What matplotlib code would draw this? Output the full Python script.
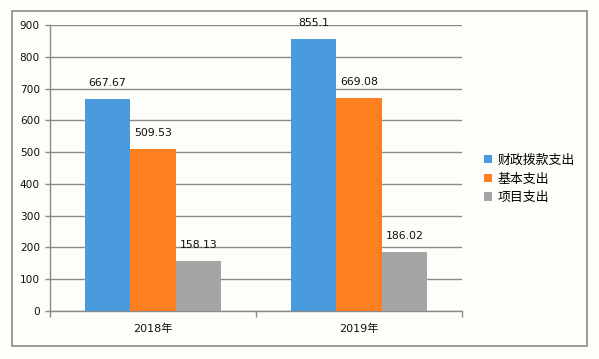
import numpy as np
import matplotlib
matplotlib.use("Agg")
import matplotlib.pyplot as plt
from matplotlib.patches import Rectangle

plt.rcParams['font.family'] = ['DejaVu Sans', 'Noto Sans CJK SC']

years = ['2018年', '2019年']
series_names = ['财政拨款支出', '基本支出', '项目支出']
fiscal = [667.67, 855.1]
basic = [509.53, 669.08]
project = [158.13, 186.02]
colors = ['#4a9ade', '#fe7f1f', '#a5a5a5']

bg = '#fdfdfa'
line_c = '#8a8a8a'

fig = plt.figure(figsize=(5.99, 3.59), dpi=100, facecolor=bg)
ax = fig.add_axes([50/599, 48/359, 412/599, 286/359], facecolor=bg)

# outer frame
fig.patches.append(Rectangle((12/599, 13/359), 575/599, 335/359, transform=fig.transFigure,
                             fill=False, edgecolor=line_c, linewidth=1.2))

x = np.arange(len(years))
w = 0.221
for i, (vals, name) in enumerate(zip([fiscal, basic, project], series_names)):
    pos = x + (i - 1) * w
    ax.bar(pos, vals, width=w, color=colors[i], label=name, zorder=3)
    for p, v in zip(pos, vals):
        ax.annotate(f'{v:g}', (p, v), xytext=(0, 16), textcoords='offset pixels',
                    ha='center', va='center', fontsize=7.8, color='#111111', zorder=4)

ax.set_xlim(-0.5, 1.5)
ax.set_ylim(0, 900)
ax.set_yticks(range(0, 1000, 100))
ax.yaxis.grid(True, color=line_c, linewidth=1.0, zorder=0)
ax.set_xticks(x)
ax.set_xticklabels(years)
ax.set_xticks([-0.5, 0.5, 1.5], minor=True)
ax.tick_params(axis='x', which='major', length=0, pad=9, labelsize=8, colors='#111111')
ax.tick_params(axis='x', which='minor', length=4.5, width=1, color=line_c)
ax.tick_params(axis='y', length=3.6, width=1, color=line_c, pad=3.6, labelsize=7.6, labelcolor='#111111')

for s in ['top', 'right']:
    ax.spines[s].set_visible(False)
for s in ['left', 'bottom']:
    ax.spines[s].set_color(line_c)
    ax.spines[s].set_linewidth(1.0)

leg = fig.legend(loc='center left', bbox_to_anchor=(472/599, 1 - 179/359), frameon=False,
                 fontsize=9.3, handlelength=0.65, handleheight=0.65, handletextpad=0.4,
                 labelspacing=0.45)

fig.savefig('out.png', dpi=100, facecolor=bg)
